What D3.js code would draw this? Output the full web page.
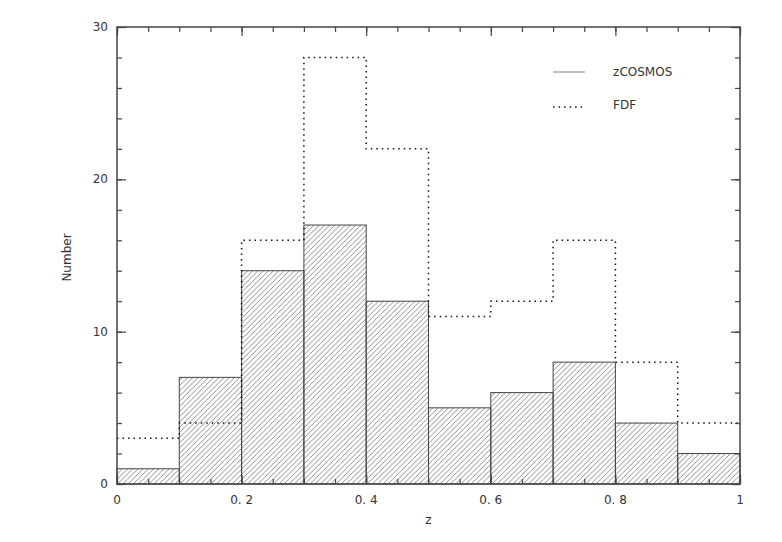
<!DOCTYPE html>
<html>
<head>
<meta charset="utf-8">
<script src="https://cdn.jsdelivr.net/npm/d3@7"></script>
<style>
  body { margin: 0; background: #fff; }
  text { font-family: "DejaVu Sans", sans-serif; fill: #333; }
</style>
</head>
<body>
<div id="chart"></div>
<script>
// bin edges (z) and counts per bin
const binEdges = [0, 0.1, 0.2, 0.3, 0.4, 0.5, 0.6, 0.7, 0.8, 0.9, 1.0];
const zcosmos = [1, 7, 14, 17, 12, 5, 6, 8, 4, 2];
const fdf = [3, 4, 16, 28, 22, 11, 12, 16, 8, 4];
const xTicks = [0, 0.2, 0.4, 0.6, 0.8, 1];
const xTickLabels = ['0', '0. 2', '0. 4', '0. 6', '0. 8', '1'];
const yTicks = [0, 10, 20, 30];
const legendNames = ['zCOSMOS', 'FDF'];

const width = 782, height = 542;
const margin = {top: 27, right: 42, bottom: 58, left: 117};
const innerW = width - margin.left - margin.right;
const innerH = height - margin.top - margin.bottom;

const svg = d3.select('#chart').append('svg')
  .attr('width', width)
  .attr('height', height);

// hatch pattern
svg.append('defs').append('pattern')
  .attr('id', 'hatch')
  .attr('patternUnits', 'userSpaceOnUse')
  .attr('width', 5.2)
  .attr('height', 5.2)
  .append('path')
  .attr('d', 'M-1,1 L1,-1 M0,5.2 L5.2,0 M4.2,6.2 L6.2,4.2')
  .attr('stroke', '#666')
  .attr('stroke-width', 0.75);

const g = svg.append('g')
  .attr('transform', `translate(${margin.left},${margin.top})`);

const x = d3.scaleLinear().domain([0, 1]).range([0, innerW]);
const y = d3.scaleLinear().domain([0, 30]).range([innerH, 0]);

// zCOSMOS bars
const bins = zcosmos.map((v, i) => ({x0: binEdges[i], x1: binEdges[i + 1], n: v}));
g.selectAll('rect.bar')
  .data(bins)
  .enter()
  .append('rect')
  .attr('class', 'bar')
  .attr('x', d => x(d.x0))
  .attr('y', d => y(d.n))
  .attr('width', d => x(d.x1) - x(d.x0))
  .attr('height', d => innerH - y(d.n))
  .attr('fill', 'url(#hatch)')
  .attr('stroke', '#444')
  .attr('stroke-width', 1);

// FDF step outline
let pts = [];
fdf.forEach((v, i) => {
  pts.push([binEdges[i], v]);
  pts.push([binEdges[i + 1], v]);
});
const line = d3.line().x(d => x(d[0])).y(d => y(d[1]));
g.append('path')
  .attr('d', line(pts))
  .attr('fill', 'none')
  .attr('stroke', '#111')
  .attr('stroke-width', 1.5)
  .attr('stroke-dasharray', '1.5,4');

// frame with ticks on all sides
const frameColor = '#444';
const xMinor = d3.range(0, 1.0001, 0.05);
const yMinor = d3.range(0, 30.001, 2);

g.append('g')
  .attr('transform', `translate(0,${innerH})`)
  .call(d3.axisTop(x).tickValues(xMinor).tickSize(5).tickFormat(''));
g.append('g')
  .attr('transform', `translate(0,${innerH})`)
  .call(d3.axisTop(x).tickValues(xTicks).tickSize(9).tickFormat(''));
g.append('g')
  .call(d3.axisBottom(x).tickValues(xMinor).tickSize(5).tickFormat(''));
g.append('g')
  .call(d3.axisBottom(x).tickValues(xTicks).tickSize(9).tickFormat(''));
g.append('g')
  .call(d3.axisRight(y).tickValues(yMinor).tickSize(5).tickFormat(''));
g.append('g')
  .call(d3.axisRight(y).tickValues(yTicks).tickSize(9).tickFormat(''));
g.append('g')
  .attr('transform', `translate(${innerW},0)`)
  .call(d3.axisLeft(y).tickValues(yMinor).tickSize(5).tickFormat(''));
g.append('g')
  .attr('transform', `translate(${innerW},0)`)
  .call(d3.axisLeft(y).tickValues(yTicks).tickSize(9).tickFormat(''));

g.selectAll('.domain').remove();
g.selectAll('.tick line').attr('stroke', frameColor).attr('stroke-width', 1.2);

g.append('rect')
  .attr('width', innerW)
  .attr('height', innerH)
  .attr('fill', 'none')
  .attr('stroke', frameColor)
  .attr('stroke-width', 1.5);

// tick labels
g.selectAll('text.xl')
  .data(xTicks)
  .enter()
  .append('text')
  .attr('x', d => x(d))
  .attr('y', innerH + 20)
  .attr('text-anchor', 'middle')
  .style('font-size', '12px')
  .text((d, i) => xTickLabels[i]);

g.selectAll('text.yl')
  .data(yTicks)
  .enter()
  .append('text')
  .attr('x', -9)
  .attr('y', d => y(d) + 4)
  .attr('text-anchor', 'end')
  .style('font-size', '12px')
  .text(d => d);

// axis titles
g.append('text')
  .attr('x', x(0.5))
  .attr('y', innerH + 40)
  .attr('text-anchor', 'middle')
  .style('font-size', '12px')
  .text('z');

g.append('text')
  .attr('transform', `translate(-46,${y(15) + 2}) rotate(-90)`)
  .attr('text-anchor', 'middle')
  .style('font-size', '12px')
  .text('Number');

// legend
const legend = g.append('g').attr('transform', `translate(${x(0.70)},0)`);
legend.append('line')
  .attr('x1', 0).attr('x2', 32)
  .attr('y1', 45).attr('y2', 45)
  .attr('stroke', '#aaa')
  .attr('stroke-width', 1.5);
legend.append('line')
  .attr('x1', 0).attr('x2', 32)
  .attr('y1', 80).attr('y2', 80)
  .attr('stroke', '#111')
  .attr('stroke-width', 1.5)
  .attr('stroke-dasharray', '1.5,4');
legend.selectAll('text')
  .data(legendNames)
  .enter()
  .append('text')
  .attr('x', 60)
  .attr('y', (d, i) => 49 + i * 33)
  .style('font-size', '12px')
  .text(d => d);
</script>
</body>
</html>
